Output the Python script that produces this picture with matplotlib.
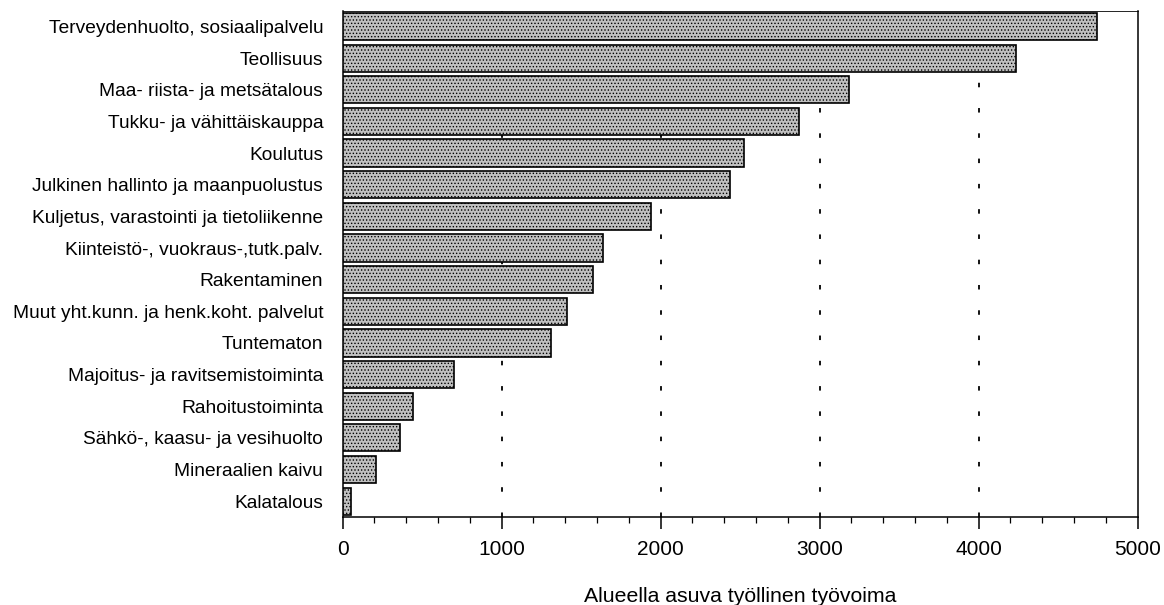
import matplotlib
matplotlib.use("Agg")
import matplotlib.pyplot as plt
from matplotlib.ticker import MultipleLocator

categories = [
    "Terveydenhuolto, sosiaalipalvelu",
    "Teollisuus",
    "Maa- riista- ja metsätalous",
    "Tukku- ja vähittäiskauppa",
    "Koulutus",
    "Julkinen hallinto ja maanpuolustus",
    "Kuljetus, varastointi ja tietoliikenne",
    "Kiinteistö-, vuokraus-,tutk.palv.",
    "Rakentaminen",
    "Muut yht.kunn. ja henk.koht. palvelut",
    "Tuntematon",
    "Majoitus- ja ravitsemistoiminta",
    "Rahoitustoiminta",
    "Sähkö-, kaasu- ja vesihuolto",
    "Mineraalien kaivu",
    "Kalatalous",
]
values = [4742, 4234, 3182, 2870, 2524, 2436, 1937, 1635, 1572, 1413, 1308, 702, 440, 360, 209, 52]
xticks = [0, 1000, 2000, 3000, 4000, 5000]
xlabel = "Alueella asuva työllinen työvoima"

plt.rcParams['font.family'] = ['Liberation Sans', 'DejaVu Sans']
plt.rcParams['hatch.color'] = '#6e6e6e'
plt.rcParams['hatch.linewidth'] = 0.6

fig = plt.figure(figsize=(11.64, 6.05), dpi=100)
ax = fig.add_axes([0.2944, 0.1455, 0.683, 0.8368])

n = len(categories)
ypos = list(range(n - 1, -1, -1))
ax.barh(ypos, values, height=0.86, color='#c0c0c0', edgecolor='black',
        linewidth=1.2, hatch='.....', zorder=3)

for xv in xticks[1:-1]:
    ax.axvline(xv, color='black', linestyle=(0, (2.5, 11.5)), linewidth=1.3, zorder=1)

ax.set_xlim(0, 5000)
ax.set_ylim(-0.5, n - 0.5)
ax.set_xticks(xticks)
ax.set_xticklabels([str(x) for x in xticks], fontsize=15)
ax.xaxis.set_minor_locator(MultipleLocator(200))
ax.tick_params(axis='x', which='major', direction='out', length=8.5, width=1.1, pad=8)
ax.tick_params(axis='x', which='minor', direction='out', length=4.3, width=0.9)
ax.set_yticks(ypos)
ax.set_yticklabels(categories, fontsize=13.8)
ax.tick_params(axis='y', length=0, pad=14)
ax.set_xlabel(xlabel, fontsize=15.3, labelpad=20)

for side in ['left', 'bottom', 'right', 'top']:
    ax.spines[side].set_linewidth(1.1)
ax.spines['top'].set_linewidth(0.6)

fig.savefig("out.png", dpi=100)
